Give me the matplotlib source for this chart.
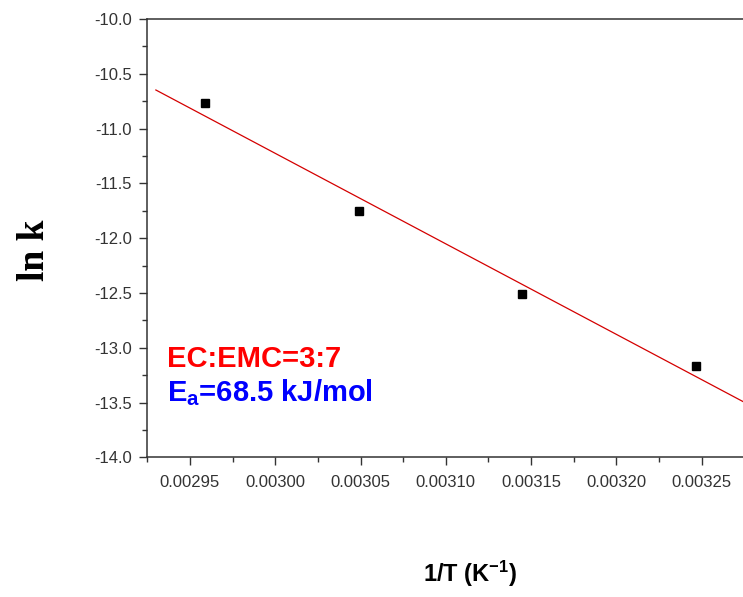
import matplotlib
matplotlib.use("Agg")
import matplotlib.pyplot as plt
import numpy as np
from matplotlib.ticker import MultipleLocator, FormatStrFormatter

plt.rcParams["font.family"] = "Liberation Sans"
plt.rcParams["axes.unicode_minus"] = False
plt.rcParams["mathtext.fontset"] = "custom"
plt.rcParams["mathtext.rm"] = "Liberation Sans:bold"
plt.rcParams["mathtext.it"] = "Liberation Sans:bold"
plt.rcParams["mathtext.bf"] = "Liberation Sans:bold"

# Arrhenius data: 1/T (K^-1) vs ln k
inv_T = [0.0029586, 0.0030488, 0.0031447, 0.0032468]
ln_k = [-10.77, -11.75, -12.51, -13.17]

AX_C = "#333333"

fig = plt.figure(figsize=(7.43, 5.97), dpi=100)
# right spine sits just past the figure edge
ax = fig.add_axes([0.1983, 0.2340, 0.8035, 0.7342])

# linear fit through the points
slope, icpt = np.polyfit(inv_T, ln_k, 1)
xf = np.array([0.00293, 0.003275])
ax.plot(xf, slope * xf + icpt, color="#d40000", lw=0.9)
ax.plot(inv_T, ln_k, "s", color="black", ms=6, mec="black")

ax.set_xlim(0.002925, 0.003275)
ax.set_ylim(-14.0, -10.0)
ax.xaxis.set_major_locator(MultipleLocator(0.00005))
ax.xaxis.set_minor_locator(MultipleLocator(0.000025))
ax.yaxis.set_major_locator(MultipleLocator(0.5))
ax.yaxis.set_minor_locator(MultipleLocator(0.25))
ax.xaxis.set_major_formatter(FormatStrFormatter("%.5f"))
ax.yaxis.set_major_formatter(FormatStrFormatter("%.1f"))

for s in ax.spines.values():
    s.set_color(AX_C)
    s.set_linewidth(1.1)
ax.tick_params(which="both", direction="out", color=AX_C, width=1.0,
               top=False, right=False)
ax.tick_params(which="major", length=6, labelsize=12, labelcolor=AX_C, pad=5)
ax.tick_params(which="minor", length=3.5)
ax.tick_params(axis="x", which="major", pad=7)

ax.text(0.0325, 0.206, "EC:EMC=3:7", transform=ax.transAxes, color="#ff0000",
        fontsize=21, fontweight="bold", va="baseline")
ax.text(0.0325, 0.127, r"E$_\mathrm{a}$=68.5 kJ/mol", transform=ax.transAxes,
        color="#0000ff", fontsize=21, fontweight="bold", va="baseline")

fig.text(0.046, 0.581, "ln k", rotation=90, ha="center", va="center",
         family="Liberation Serif", fontweight="bold", fontsize=27)
fig.text(470 / 743, 1 - 582 / 597, r"1/T (K$^{\mathrm{-1}}$)", ha="center",
         va="baseline", fontweight="bold", fontsize=17)

fig.savefig("out.png", dpi=100)
